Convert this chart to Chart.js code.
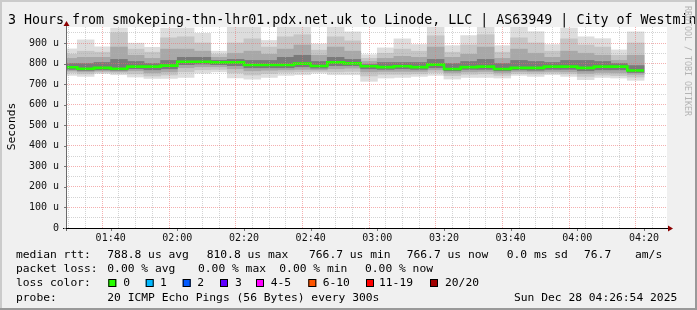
<!DOCTYPE html>
<html><head><meta charset="utf-8">
<script src="https://cdn.jsdelivr.net/npm/chart.js@4/dist/chart.umd.min.js"></script>
<style>html,body{margin:0;padding:0;background:#f0f0f0;overflow:hidden}canvas{display:block}</style>
</head><body>
<canvas id="c" width="697" height="310" style="width:697px;height:310px"></canvas>
<script>
// ---- data ----
const windowStart = '01:26:54';
const windowEnd = '04:26:54';
const sampleTimes = ['01:30','01:35','01:40','01:45','01:50','01:55','02:00','02:05','02:10','02:15','02:20','02:25','02:30','02:35','02:40','02:45','02:50','02:55','03:00','03:05','03:10','03:15','03:20','03:25','03:30','03:35','03:40','03:45','03:50','03:55','04:00','04:05','04:10','04:15','04:20'];
const maxRtt = [871,915,881,973,899,879,973,973,947,860,977,977,912,977,977,895,977,954,843,876,920,892,977,887,936,977,887,977,955,892,973,930,921,866,954];
const q90Rtt = [845,860,855,950,870,855,925,930,900,845,900,920,880,930,940,865,930,910,825,850,870,860,935,855,890,940,855,925,900,860,920,890,880,840,900];
const q75Rtt = [825,830,830,880,840,825,870,870,860,830,850,860,845,870,890,840,880,860,810,825,835,830,880,830,845,880,825,870,850,830,860,850,840,815,840];
const q60Rtt = [800,800,805,820,810,800,815,830,830,815,820,815,815,830,840,810,830,820,795,805,805,805,820,800,810,820,800,815,810,805,815,815,810,800,790];
const medianRtt = [782,775,779,775,785,785,790,809,809,806,806,793,793,793,800,788,806,801,787,783,787,783,795,774,783,785,774,779,779,785,785,779,785,785,766.7];
const q40Rtt = [772,767,770,768,775,770,775,795,798,795,790,780,780,780,785,778,790,790,775,772,775,772,780,765,772,772,765,770,768,772,772,765,770,770,757];
const q25Rtt = [765,760,764,762,765,755,760,780,785,785,775,765,768,770,772,770,775,778,760,762,762,762,770,755,760,762,755,762,760,762,760,752,757,755,748];
const q10Rtt = [757,750,758,755,750,740,745,760,770,772,755,745,752,758,760,762,760,762,740,748,748,750,757,742,748,750,743,752,750,754,750,738,745,742,735];
const minRtt = [743,738,752,746,735,728,728,733,754,760,730,725,733,743,746,754,746,746,714,730,733,738,743,725,733,733,730,743,738,746,738,722,733,730,719];
const yMaxValue = 978;
const xTickLabels = ['01:40','02:00','02:20','02:40','03:00','03:20','03:40','04:00','04:20'];
const yTickValues = [0,100,200,300,400,500,600,700,800,900];
const yTickLabels = ['0','100 u','200 u','300 u','400 u','500 u','600 u','700 u','800 u','900 u'];
const lossLabels = ['0','1','2','3','4-5','6-10','11-19','20/20'];
const lossColors = ['#26ff00','#00b8ff','#0059ff','#5e00ff','#ff00ff','#ff5500','#ff0000','#a10000'];
const titleText = '3 Hours from smokeping-thn-lhr01.pdx.net.uk to Linode, LLC | AS63949 | City of Westminster';
const legendLine1 = [['median rtt:',16],['788.8 us avg',107.3],['810.8 us max',206.7],['766.7 us min',309],['766.7 us now',406.7],['0.0 ms sd',506.7],['76.7',584],['am/s',635]];
const legendLine2 = [['packet loss:',16],['0.00 % avg',107.3],['0.00 % max',198],['0.00 % min',279.3],['0.00 % now',365]];
const lossBoxX = [108.3,145.7,182.7,220,256,308.3,366,430];
const lossLabelX = [123.3,160,197.3,235,270.7,322.7,379,445];
const probeText = '20 ICMP Echo Pings (56 Bytes) every 300s';
const stampText = 'Sun Dec 28 04:26:54 2025';

// ---- helpers ----
function toMin(s){const p=s.split(':').map(Number);return p[0]*60+p[1]+(p[2]||0)/60;}
function fmt(v){const m=Math.round(v);const h=Math.floor(m/60),mm=m%60;return String(h).padStart(2,'0')+':'+String(mm).padStart(2,'0');}
const MONO='"DejaVu Sans Mono", monospace';
const xMin=toMin(windowStart), xMax=toMin(windowEnd);
const step=5;
const xGrid=[];for(let v=Math.ceil(xMin/step)*step;v<xMax;v+=step)xGrid.push(v);
const yGrid=[];for(let v=0;v<yMaxValue;v+=50)yGrid.push(v);

function band(lo,hi){return sampleTimes.map((t,i)=>({x:toMin(t)-step/2,y:[lo[i],hi[i]]}));}
const medPts=sampleTimes.map((t,i)=>({x:toMin(t)-step,y:medianRtt[i]}));
medPts.push({x:toMin(sampleTimes[sampleTimes.length-1]),y:medianRtt[medianRtt.length-1]});

const barCommon={type:'bar',barPercentage:1,categoryPercentage:1,grouped:false,borderWidth:0,borderSkipped:false,inflateAmount:0.4};

const majorColor='rgba(235,110,110,0.55)', minorColor='rgba(175,175,175,0.55)';

const decor={
  id:'decor',
  beforeDraw(chart){
    const {ctx,chartArea:a}=chart;
    ctx.save();
    ctx.fillStyle='#f0f0f0';ctx.fillRect(0,0,chart.width,chart.height);
    ctx.fillStyle='#ffffff';ctx.fillRect(a.left,a.top,a.right-a.left,a.bottom-a.top);
    ctx.restore();
  },
  afterDraw(chart){
    const {ctx,chartArea:a}=chart;
    const xs=chart.scales.x, ys=chart.scales.y;
    ctx.save();
    // axes
    ctx.strokeStyle='#6a6a6a';ctx.lineWidth=1;
    ctx.beginPath();ctx.moveTo(a.left-0.5,a.bottom+3);ctx.lineTo(a.left-0.5,a.top-1);ctx.stroke();
    ctx.strokeStyle='#000';
    ctx.beginPath();ctx.moveTo(a.left-4,a.bottom+0.5);ctx.lineTo(a.right+1,a.bottom+0.5);ctx.stroke();
    // major ticks
    ctx.strokeStyle='#777';
    xTickLabels.forEach(l=>{const px=Math.round(xs.getPixelForValue(toMin(l)))+0.5;ctx.beginPath();ctx.moveTo(px,a.bottom+1);ctx.lineTo(px,a.bottom+3);ctx.stroke();});
    yTickValues.forEach(v=>{const py=Math.round(ys.getPixelForValue(v))+0.5;ctx.beginPath();ctx.moveTo(a.left-3,py);ctx.lineTo(a.left-1,py);ctx.stroke();});
    // arrows
    ctx.fillStyle='#8b0000';
    ctx.beginPath();ctx.moveTo(a.left-0.5,a.top-6);ctx.lineTo(a.left-3.5,a.top-1);ctx.lineTo(a.left+2.5,a.top-1);ctx.closePath();ctx.fill();
    ctx.beginPath();ctx.moveTo(a.right+6,a.bottom+0.5);ctx.lineTo(a.right+1,a.bottom-2.5);ctx.lineTo(a.right+1,a.bottom+3.5);ctx.closePath();ctx.fill();
    // title
    ctx.fillStyle='#000';ctx.textBaseline='alphabetic';ctx.textAlign='left';
    ctx.font='13.3px '+MONO;ctx.fillText(titleText,8,24);
    // y axis title
    ctx.save();ctx.translate(12,126.5);ctx.rotate(-Math.PI/2);ctx.font='11.3px '+MONO;ctx.textAlign='center';ctx.textBaseline='middle';ctx.fillText('Seconds',0,0);ctx.restore();
    // watermark
    ctx.save();ctx.translate(687,6);ctx.rotate(Math.PI/2);ctx.font='8.3px '+MONO;ctx.fillStyle='#b4b4b4';ctx.textAlign='left';ctx.textBaseline='middle';ctx.fillText('RRDTOOL / TOBI OETIKER',0,0);ctx.restore();
    // legend
    ctx.font='11.3px '+MONO;ctx.fillStyle='#000';ctx.textBaseline='alphabetic';
    legendLine1.forEach(([t,x])=>ctx.fillText(t,x,258));
    legendLine2.forEach(([t,x])=>ctx.fillText(t,x,272.2));
    ctx.fillText('loss color:',16,286.4);
    lossLabels.forEach((l,i)=>{
      ctx.fillStyle=lossColors[i];ctx.fillRect(lossBoxX[i],279,8,8);
      ctx.strokeStyle='#000';ctx.lineWidth=1;ctx.strokeRect(lossBoxX[i]+0.5,279.5,7,7);
      ctx.fillStyle='#000';ctx.fillText(l,lossLabelX[i],286.4);
    });
    ctx.fillText('probe:',16,300.6);
    ctx.fillText(probeText,107.3,300.6);
    ctx.fillText(stampText,514,300.6);
    // frame
    ctx.fillStyle='#cbcbcb';ctx.fillRect(0,0,chart.width,2);ctx.fillRect(0,0,2,chart.height);
    ctx.fillStyle='#999999';ctx.fillRect(0,chart.height-2,chart.width,2);ctx.fillRect(chart.width-2,0,2,chart.height);
    ctx.restore();
  }
};

new Chart(document.getElementById('c'),{
  type:'bar',
  data:{datasets:[
    {type:'line',data:medPts,stepped:'before',borderColor:'#22ff00',borderWidth:2.6,pointRadius:0,fill:false,order:0},
    Object.assign({data:band(q40Rtt,q60Rtt),backgroundColor:'#7a7a7a',order:1},barCommon),
    Object.assign({data:band(q25Rtt,q75Rtt),backgroundColor:'#a8a8a8',order:2},barCommon),
    Object.assign({data:band(q10Rtt,q90Rtt),backgroundColor:'#c5c5c5',order:3},barCommon),
    Object.assign({data:band(minRtt,maxRtt),backgroundColor:'#dddddd',order:4},barCommon)
  ]},
  options:{
    responsive:false,animation:false,devicePixelRatio:1,
    layout:{padding:{left:0,right:30,top:27,bottom:0}},
    plugins:{legend:{display:false},tooltip:{enabled:false},title:{display:false}},
    scales:{
      x:{type:'linear',min:xMin,max:xMax,offset:false,
        afterBuildTicks(s){s.ticks=xGrid.map(v=>({value:v}));},
        afterFit(s){s.height=82;s.paddingLeft=0;s.paddingRight=0;},
        ticks:{autoSkip:false,maxRotation:0,minRotation:0,padding:4,color:'#111',font:{family:MONO,size:10},
          callback(v){const l=fmt(v);return xTickLabels.includes(l)?l:'';}},
        grid:{z:1,drawTicks:false,lineWidth:1,color(c){const v=c.tick&&c.tick.value;return xTickLabels.includes(fmt(v))?majorColor:minorColor;}},
        border:{display:false,dash:[1,1]}
      },
      y:{min:0,max:yMaxValue,
        afterBuildTicks(s){s.ticks=yGrid.map(v=>({value:v}));},
        afterFit(s){s.width=67;s.paddingTop=0;s.paddingBottom=0;},
        ticks:{autoSkip:false,padding:8,color:'#111',font:{family:MONO,size:10},
          callback(v){const i=yTickValues.indexOf(v);return i>=0?yTickLabels[i]:'';}},
        grid:{z:1,drawTicks:false,lineWidth:1,color(c){const v=c.tick&&c.tick.value;return (v%100===0)?majorColor:minorColor;}},
        border:{display:false,dash:[1,1]}
      }
    }
  },
  plugins:[decor]
});
</script>
</body></html>
